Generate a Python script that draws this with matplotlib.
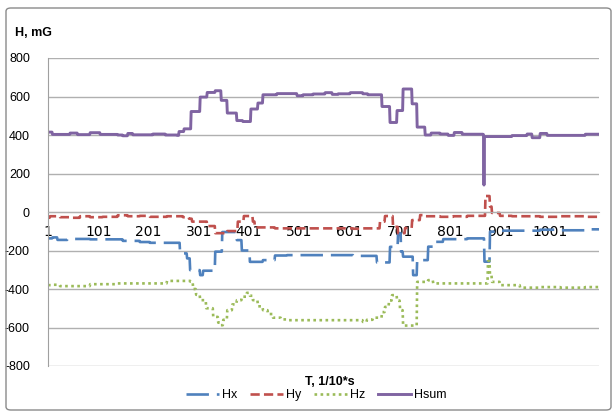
import numpy as np
import matplotlib
matplotlib.use("Agg")
import matplotlib.pyplot as plt
from matplotlib.patches import FancyBboxPatch
from matplotlib.lines import Line2D

N = 1098
x_ticks = [1, 101, 201, 301, 401, 501, 601, 701, 801, 901, 1001]
y_ticks = [-800, -600, -400, -200, 0, 200, 400, 600, 800]

# step series: (start sample index, value)
hsum_steps = [(1, 415), (10, 403), (45, 410), (60, 402), (85, 412), (105, 403), (140, 400),
              (150, 396), (160, 408), (170, 401), (210, 405), (235, 400), (258, 398),
              (262, 418), (272, 432), (286, 522), (304, 597), (318, 621), (334, 630),
              (346, 580), (358, 514), (377, 475), (389, 470), (405, 535), (419, 566),
              (429, 609), (457, 615), (497, 604), (509, 609), (529, 613), (553, 620),
              (567, 611), (579, 614), (603, 620), (628, 614), (638, 609), (666, 548),
              (682, 465), (696, 527), (708, 639), (726, 562), (736, 441), (752, 400),
              (764, 410), (782, 405), (798, 398), (810, 413), (826, 404), (868, 402),
              (869, 140), (870, 392), (925, 397), (955, 405), (965, 386), (981, 408),
              (995, 398), (1071, 404)]

hx_steps = [(1, -137), (10, -132), (20, -145), (40, -140), (85, -142), (150, -150),
            (184, -156), (204, -160), (264, -215), (278, -241), (284, -302), (304, -328),
            (310, -305), (334, -206), (348, -104), (377, -146), (387, -200), (403, -259),
            (429, -250), (453, -226), (477, -224), (609, -228), (656, -262), (682, -181),
            (698, -110), (704, -206), (708, -232), (728, -328), (736, -250), (758, -180),
            (768, -155), (788, -141), (836, -137), (870, -258), (881, -102), (901, -97),
            (981, -92), (1021, -95), (1071, -90)]

hy_steps = [(1, -30), (5, -22), (25, -27), (45, -30), (65, -22), (85, -27), (110, -25),
            (140, -17), (160, -22), (184, -20), (204, -25), (238, -22), (270, -27),
            (282, -35), (288, -50), (318, -73), (334, -110), (358, -99), (379, -50),
            (391, -21), (409, -50), (413, -80), (453, -85), (609, -87), (628, -85),
            (662, -50), (672, -21), (688, -77), (698, -110), (712, -83), (726, -42),
            (742, -16), (752, -22), (782, -25), (808, -22), (826, -25), (836, -20),
            (872, 83), (881, 28), (885, -5), (901, -20), (925, -22), (981, -25),
            (1021, -22), (1071, -25)]

hz_steps = [(1, -380), (8, -378), (25, -385), (85, -375), (140, -371), (238, -358),
            (285, -362), (290, -400), (296, -430), (304, -458), (316, -500), (330, -545),
            (340, -575), (344, -588), (350, -560), (358, -510), (368, -480), (377, -458),
            (387, -440), (397, -420), (403, -435), (409, -458), (419, -490), (429, -510),
            (439, -530), (449, -549), (465, -558), (477, -562), (628, -571), (636, -560),
            (648, -549), (666, -520), (672, -493), (680, -460), (686, -432), (696, -460),
            (702, -510), (708, -590), (736, -363), (758, -354), (768, -371), (877, -255),
            (881, -330), (885, -363), (901, -380), (941, -393), (981, -390), (1021, -393),
            (1071, -390)]


def expand(steps, n):
    out = np.empty(n)
    for i, (s, v) in enumerate(steps):
        e = steps[i + 1][0] if i + 1 < len(steps) else n + 1
        out[s - 1:e - 1] = v
    return out


t = np.arange(1, N + 1)
hx = expand(hx_steps, N)
hy = expand(hy_steps, N)
hz = expand(hz_steps, N)
hsum = expand(hsum_steps, N)

W, H = 615, 412
fig = plt.figure(figsize=(W / 100, H / 100), dpi=100)
ax = fig.add_axes([48 / W, 1 - 366 / H, (599 - 48) / W, (366 - 58) / H])

c_x, c_y, c_z, c_s = "#4F81BD", "#C0504D", "#9BBB59", "#8064A2"
lw = 1.9
d_x, d_y, d_z = (8.5, 3), (3.5, 1.6), (1, 1.3)
ax.plot(t, hx, color=c_x, lw=lw, dashes=d_x)
ax.plot(t, hy, color=c_y, lw=lw, dashes=d_y)
ax.plot(t, hz, color=c_z, lw=lw, dashes=d_z)
ax.plot(t, hsum, color=c_s, lw=2.1)

ax.set_xlim(1, N)
ax.set_ylim(-800, 800)
ax.set_yticks(y_ticks)
ax.set_yticklabels([str(v) for v in y_ticks], fontsize=9, fontfamily="Liberation Sans")
ax.set_xticks(x_ticks)
ax.set_xticklabels([str(v) for v in x_ticks], fontsize=9, fontfamily="Liberation Serif")
ax.grid(axis="y", color="#B0B0B0", lw=1)
ax.set_axisbelow(True)
for s in ["top", "right"]:
    ax.spines[s].set_visible(False)
ax.spines["bottom"].set_position(("data", 0))
ax.spines["bottom"].set_color("#B0B0B0")
ax.spines["left"].set_color("#A0A0A0")
ax.tick_params(axis="x", length=0, pad=9)
ax.tick_params(axis="y", length=0, pad=13)

fig.text(15 / W, 1 - 33 / H, "H, mG", fontsize=9, fontweight="bold",
         fontfamily="Liberation Sans", va="center", ha="left")
fig.text(330 / W, 1 - 382 / H, "T, 1/10*s", fontsize=9, fontweight="bold",
         fontfamily="Liberation Sans", va="center", ha="center")

handles = [Line2D([], [], color=c_x, lw=lw, dashes=d_x),
           Line2D([], [], color=c_y, lw=lw, dashes=d_y),
           Line2D([], [], color=c_z, lw=lw, dashes=d_z),
           Line2D([], [], color=c_s, lw=2.1)]
fig.legend(handles, ["Hx", "Hy", "Hz", "Hsum"], loc="center", ncol=4,
           bbox_to_anchor=(316 / W, 1 - 395 / H), frameon=False,
           prop={"family": "Liberation Sans", "size": 9}, handlelength=2.7,
           handletextpad=0.2, columnspacing=1.0, borderpad=0)

border = FancyBboxPatch((6 / W, 2 / H), (611 - 6) / W, (410 - 8) / H,
                        boxstyle="round,pad=0,rounding_size=0.008",
                        transform=fig.transFigure, fill=False,
                        edgecolor="#8A8A8A", lw=1)
fig.patches.append(border)

fig.savefig("out.png", dpi=100)
